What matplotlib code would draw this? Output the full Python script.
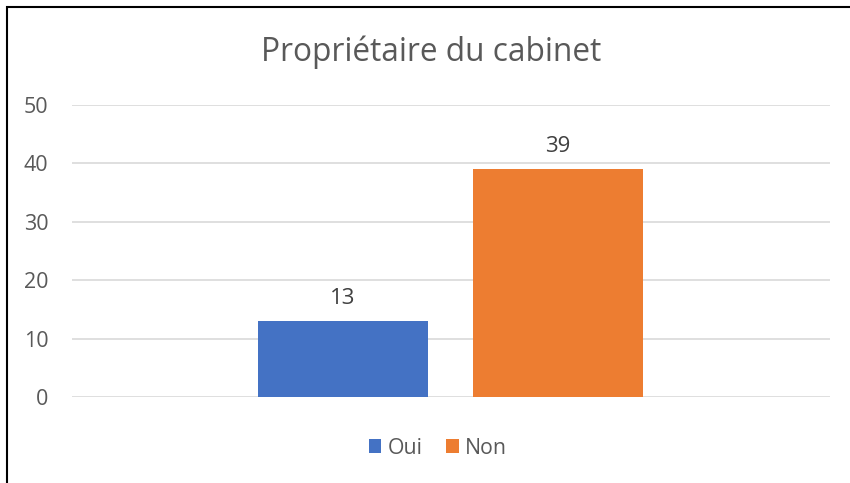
import matplotlib.pyplot as plt
from matplotlib.patches import Rectangle

# data
series = ['Oui', 'Non']
values = [13, 39]
colors = ['#4472C4', '#ED7D31']
yticks = [0, 10, 20, 30, 40, 50]

plt.rcParams['font.family'] = ['Open Sans', 'DejaVu Sans']

fig = plt.figure(figsize=(8.5, 4.83), dpi=100)
W, H = 850, 483
ax = fig.add_axes([72 / W, 1 - 397 / H, (830 - 72) / W, (397 - 105) / H])

offsets = [-0.143, 0.141]
width = 0.224
for name, v, c, off in zip(series, values, colors, offsets):
    ax.bar(off, v, width=width, color=c, label=name, zorder=3)
    ax.text(off, v + 2.9, str(v), ha='center', va='baseline', fontsize=16, color='#404040')

ax.set_xlim(-0.5, 0.5)
ax.set_ylim(0, 50)
ax.set_yticks(yticks)
ax.set_xticks([])
ax.grid(axis='y', color='#D9D9D9', linewidth=1.2, zorder=0)
for s in ax.spines.values():
    s.set_visible(False)
ax.tick_params(axis='y', length=0, pad=17, labelsize=15.5, labelcolor='#595959')

fig.text(431 / W, 1 - 52 / H, 'Propriétaire du cabinet', ha='center', va='center',
         fontsize=22.8, color='#595959')

leg = fig.legend(loc='center', bbox_to_anchor=(438 / W, 1 - 448 / H), ncol=2, frameon=False,
                 fontsize=15.3, handlelength=0.6, handleheight=0.6, handletextpad=0.3,
                 columnspacing=1.1)
for t in leg.get_texts():
    t.set_color('#595959')

# chart border (left and top edges visible)
fig.add_artist(Rectangle((6.5 / W, -0.1), 1.2, 1 - 7.5 / H + 0.1, transform=fig.transFigure,
                         fill=False, edgecolor='black', linewidth=1.5))

fig.savefig('out.png', dpi=100)
